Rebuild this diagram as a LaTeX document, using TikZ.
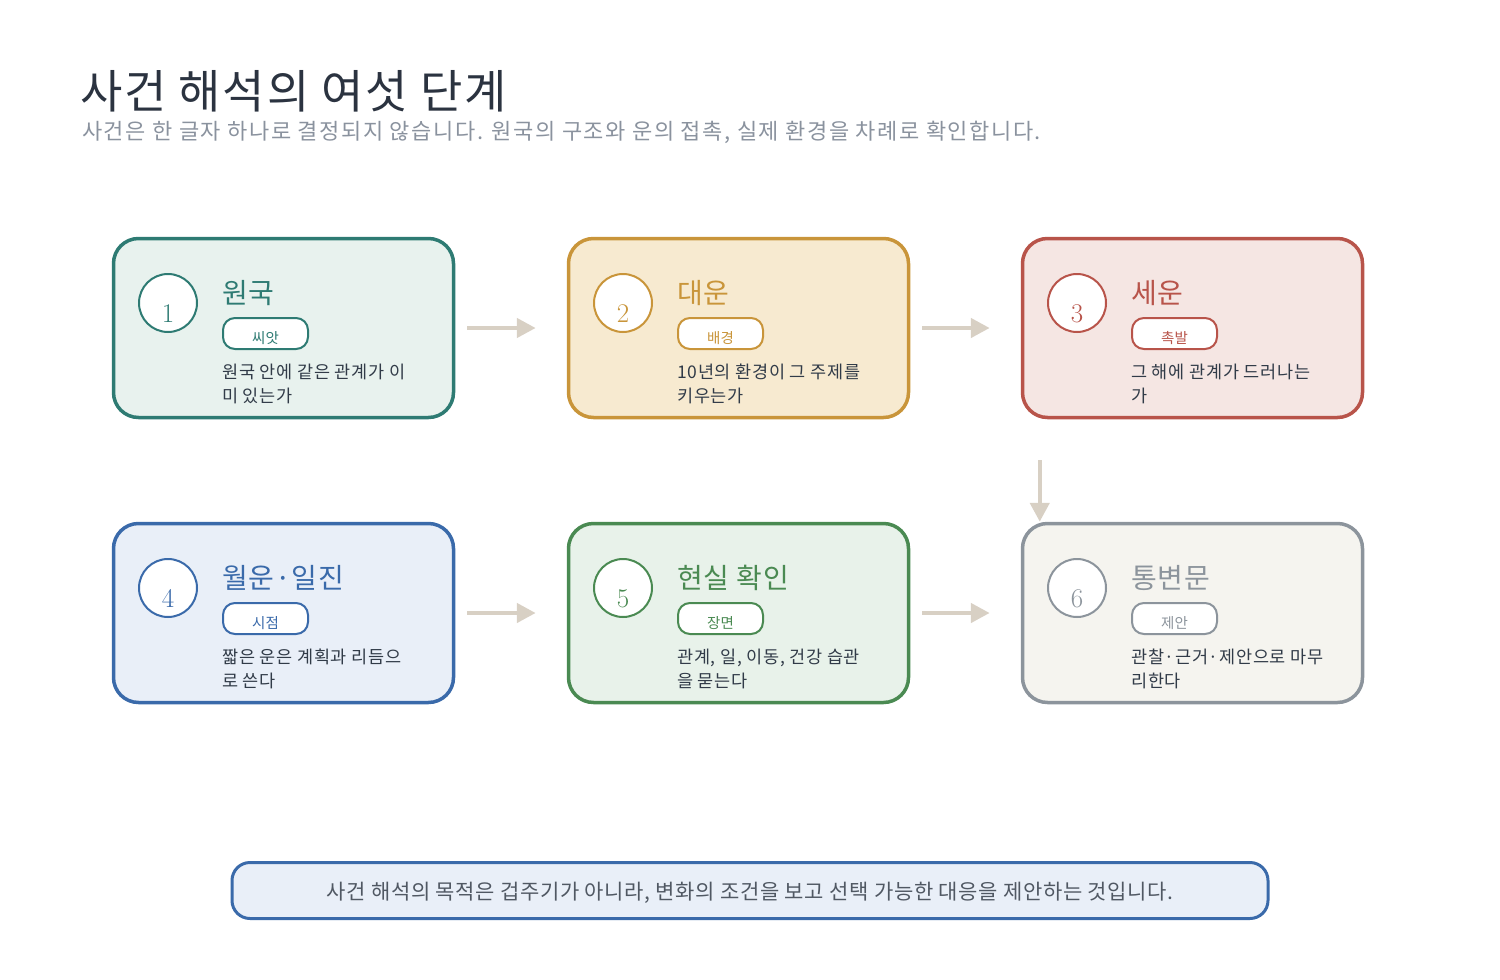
\documentclass[tikz,border=0pt]{standalone}
\usepackage{fontspec}
\usetikzlibrary{arrows.meta,positioning}
\newfontfamily\kr{Noto Sans CJK KR}
\definecolor{ink}{HTML}{2B3340}
\definecolor{muted}{HTML}{8A929E}
\definecolor{body}{HTML}{313B48}
\definecolor{flowc}{HTML}{D8D0C4}
\definecolor{c1}{HTML}{2E7B73}\definecolor{c1bg}{HTML}{E8F2EE}
\definecolor{c2}{HTML}{C9953A}\definecolor{c2bg}{HTML}{F7EAD0}
\definecolor{c3}{HTML}{B8544A}\definecolor{c3bg}{HTML}{F5E6E3}
\definecolor{c4}{HTML}{3A6AAA}\definecolor{c4bg}{HTML}{E9EFF8}
\definecolor{c5}{HTML}{4A8A52}\definecolor{c5bg}{HTML}{E8F2EA}
\definecolor{c6}{HTML}{8C949C}\definecolor{c6bg}{HTML}{F5F4EF}
\tikzset{
    stepbox/.style={draw=#1, fill=#1bg, line width=3.5pt, rounded corners=25pt,
        minimum width=340pt, minimum height=179pt, inner sep=0pt},
    numc/.style={circle, draw=#1, fill=white, line width=2pt, minimum size=58pt, inner sep=0pt},
    numt/.style={text=#1, font=\fontsize{27}{30}\selectfont, inner sep=0pt, anchor=base},
    head/.style={text=#1, font=\kr\addfontfeature{LetterSpace=3}\fontsize{28}{30}\selectfont, inner sep=0pt, anchor=base west},
    tag/.style={draw=#1, fill=white, text=#1, line width=2pt, rounded corners=12pt,
        minimum width=85pt, minimum height=31pt, inner sep=0pt,
        font=\kr\fontsize{14.5}{16}\selectfont, text height=20pt, text depth=0pt},
    desc/.style={text=body, font=\kr\addfontfeature{LetterSpace=4}\fontsize{17.5}{24}\selectfont, align=left,
        inner sep=0pt, anchor=base west},
    flow/.style={draw=flowc, line width=4.5pt, -{Triangle[length=19pt,width=19pt]}}
}

\begin{document}
\begin{tikzpicture}[x=1pt, y=-1pt]
        \useasboundingbox (0,0) rectangle (1500,980);
        % title
        \node (title) [text=ink, font=\kr\addfontfeature{LetterSpace=4}\fontsize{46}{50}\selectfont, anchor=base west, inner sep=0pt] at (80,108) {사건 해석의 여섯 단계};
        \node (sub) [text=muted, font=\kr\addfontfeature{LetterSpace=7}\fontsize{22}{24}\selectfont, anchor=base west, inner sep=0pt] at (82,139) {사건은 한 글자 하나로 결정되지 않습니다. 원국의 구조와 운의 접촉, 실제 환경을 차례로 확인합니다.};
        % row 1
        \node (s1) [stepbox=c1] at (283.5,328) {};
        \node (c1) [numc=c1] at (168,303) {};
        \node (n1) [numt=c1] at (168,322) {1};
        \node (t1) [head=c1] at (222,303) {원국};
        \node (g1) [tag=c1] at (265.5,333.5) {씨앗};
        \node (d1) [desc] at (222,402) {원국 안에 같은 관계가 이\\미 있는가};
        \node (s2) [stepbox=c2] at (738.5,328) {};
        \node (c2) [numc=c2] at (623,303) {};
        \node (n2) [numt=c2] at (623,322) {2};
        \node (t2) [head=c2] at (677,303) {대운};
        \node (g2) [tag=c2] at (720.5,333.5) {배경};
        \node (d2) [desc] at (677,402) {10년의 환경이 그 주제를\\키우는가};
        \node (s3) [stepbox=c3] at (1192.5,328) {};
        \node (c3) [numc=c3] at (1077,303) {};
        \node (n3) [numt=c3] at (1077,322) {3};
        \node (t3) [head=c3] at (1131,303) {세운};
        \node (g3) [tag=c3] at (1174.5,333.5) {촉발};
        \node (d3) [desc] at (1131,402) {그 해에 관계가 드러나는\\가};
        % row 2
        \node (s4) [stepbox=c4] at (283.5,613) {};
        \node (c4) [numc=c4] at (168,588) {};
        \node (n4) [numt=c4] at (168,607) {4};
        \node (t4) [head=c4] at (222,588) {월운·일진};
        \node (g4) [tag=c4] at (265.5,618.5) {시점};
        \node (d4) [desc] at (222,687) {짧은 운은 계획과 리듬으\\로 쓴다};
        \node (s5) [stepbox=c5] at (738.5,613) {};
        \node (c5) [numc=c5] at (623,588) {};
        \node (n5) [numt=c5] at (623,607) {5};
        \node (t5) [head=c5] at (677,588) {현실 확인};
        \node (g5) [tag=c5] at (720.5,618.5) {장면};
        \node (d5) [desc] at (677,687) {관계, 일, 이동, 건강 습관\\을 묻는다};
        \node (s6) [stepbox=c6] at (1192.5,613) {};
        \node (c6) [numc=c6] at (1077,588) {};
        \node (n6) [numt=c6] at (1077,607) {6};
        \node (t6) [head=c6] at (1131,588) {통변문};
        \node (g6) [tag=c6] at (1174.5,618.5) {제안};
        \node (d6) [desc] at (1131,687) {관찰·근거·제안으로 마무\\리한다};
        % flow
        \draw (s1) edge [flow, shorten <=12pt, shorten >=31pt] (s2);
        \draw (s2) edge [flow, shorten <=12pt, shorten >=31pt] (s3);
        \draw (s4) edge [flow, shorten <=12pt, shorten >=31pt] (s5);
        \draw (s5) edge [flow, shorten <=12pt, shorten >=31pt] (s6);
        \draw ([xshift=19pt]s3.south west) edge [flow, shorten <=41pt] ([xshift=19pt]s6.north west);
        % note
        \node (note) [draw=c4, fill=c4bg, line width=3pt, rounded corners=18pt, minimum width=1036pt, minimum height=56pt,
                text=body!85, text depth=0pt, font=\kr\addfontfeature{LetterSpace=3}\fontsize{21}{24}\selectfont] at (750,890.5) {사건 해석의 목적은 겁주기가 아니라, 변화의 조건을 보고 선택 가능한 대응을 제안하는 것입니다.};
\end{tikzpicture}
\end{document}
